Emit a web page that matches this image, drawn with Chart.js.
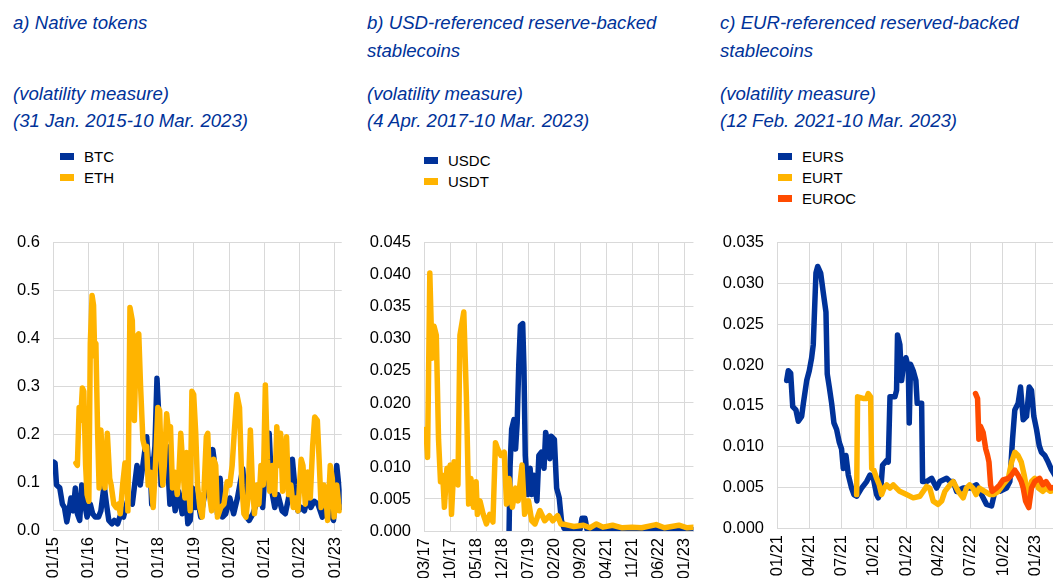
<!DOCTYPE html>
<html lang="en">
<head>
<meta charset="UTF-8">
<title>Volatility of crypto-assets</title>
<script src="https://cdn.jsdelivr.net/npm/chart.js"></script>
<style>
    body {
        margin: 0;
        width: 1053px;
        height: 578px;
        overflow: hidden;
        background: #ffffff;
        position: relative;
        font-family: 'Liberation Sans', Arial, sans-serif;
    }
    .title {
        position: absolute;
        color: #003299;
        font-style: italic;
        font-size: 18.6px;
        line-height: 20px;
        white-space: nowrap;
    }
    .legend {
        position: absolute;
        font-size: 15px;
        color: #000;
    }
    .legend div {
        position: relative;
        height: 21px;
        line-height: 21px;
        padding-left: 24px;
    }
    .legend span {
        position: absolute;
        left: 0;
        top: 7px;
        width: 14px;
        height: 7px;
    }
    canvas {
        position: absolute;
    }
</style>
</head>
<body>

<div class="title" style="left:13px;top:13px">a) Native tokens</div>
<div class="title" style="left:13px;top:84px">(volatility measure)</div>
<div class="title" style="left:13px;top:111px">(31 Jan. 2015-10 Mar. 2023)</div>

<div class="title" style="left:367px;top:13px">b) USD-referenced reserve-backed</div>
<div class="title" style="left:367px;top:41px">stablecoins</div>
<div class="title" style="left:367px;top:84px">(volatility measure)</div>
<div class="title" style="left:367px;top:111px">(4 Apr. 2017-10 Mar. 2023)</div>

<div class="title" style="left:720px;top:13px">c) EUR-referenced reserved-backed</div>
<div class="title" style="left:720px;top:41px">stablecoins</div>
<div class="title" style="left:720px;top:84px">(volatility measure)</div>
<div class="title" style="left:720px;top:111px">(12 Feb. 2021-10 Mar. 2023)</div>

<div class="legend" id="legA" style="left:60px;top:146px"></div>
<div class="legend" id="legB" style="left:424px;top:150px"></div>
<div class="legend" id="legC" style="left:778px;top:146px"></div>

<canvas id="chartA" style="left:0px;top:220px"></canvas>
<canvas id="chartB" style="left:355px;top:220px"></canvas>
<canvas id="chartC" style="left:710px;top:220px"></canvas>

<script>
    // x = months since first tick label, y = volatility measure
    const BLUE = '#003299';
    const YELLOW = '#ffb400';
    const RED = '#ff4b00';

    // a) Native tokens, x = months since Jan 2015
    const ticksA = ['01/15', '01/16', '01/17', '01/18', '01/19', '01/20', '01/21', '01/22', '01/23'];
    const btc = [
        [0.3, 0.142], [0.7, 0.14], [1.2, 0.094], [2.3, 0.088], [3.2, 0.054], [3.9, 0.047], [4.7, 0.017],
        [5.6, 0.047], [6.1, 0.067], [6.9, 0.04], [7.6, 0.088], [8.3, 0.034], [9.1, 0.02], [9.8, 0.094],
        [10.6, 0.06], [11.6, 0.027], [12.7, 0.054], [13.5, 0.034], [14.4, 0.027], [15.5, 0.027],
        [16.3, 0.04], [17.4, 0.094], [18.2, 0.054], [19.0, 0.02], [20.1, 0.013], [20.9, 0.02],
        [22.0, 0.013], [22.9, 0.03], [24.0, 0.027], [25.3, 0.06], [27.0, 0.054], [28.6, 0.135],
        [29.7, 0.094], [31.9, 0.195], [32.4, 0.148], [33.0, 0.148], [33.6, 0.054], [34.1, 0.135],
        [34.7, 0.175], [35.4, 0.317], [36.1, 0.229], [36.8, 0.094], [37.8, 0.135], [38.7, 0.175],
        [39.8, 0.054], [40.7, 0.094], [41.6, 0.04], [42.7, 0.081], [44.0, 0.034], [45.0, 0.094],
        [45.9, 0.013], [46.7, 0.02], [47.5, 0.088], [48.4, 0.047], [49.4, 0.06], [50.3, 0.027],
        [51.4, 0.067], [52.7, 0.094], [54.4, 0.168], [55.1, 0.135], [56.0, 0.034], [56.9, 0.108],
        [57.7, 0.027], [58.8, 0.034], [60.2, 0.067], [61.5, 0.034], [62.8, 0.067], [64.6, 0.128],
        [65.9, 0.027], [66.8, 0.02], [68.1, 0.034], [69.2, 0.054], [70.5, 0.067], [71.4, 0.047],
        [72.3, 0.135], [73.6, 0.202], [74.5, 0.081], [75.5, 0.047], [76.6, 0.074], [78.0, 0.04],
        [79.1, 0.034], [80.2, 0.067], [81.5, 0.148], [82.3, 0.094], [83.4, 0.04], [84.5, 0.047],
        [85.6, 0.04], [86.7, 0.067], [87.8, 0.047], [88.9, 0.06], [90.2, 0.054], [91.7, 0.027],
        [93.1, 0.067], [94.4, 0.034], [95.5, 0.02], [96.6, 0.135], [97.5, 0.081], [98.3, 0.047]
    ];
    const eth = [
        [7.8, 0.14], [8.3, 0.135], [8.9, 0.256], [9.4, 0.229], [10.0, 0.297], [10.5, 0.29], [11.1, 0.135],
        [11.6, 0.074], [12.2, 0.06], [12.7, 0.39], [13.3, 0.49], [13.8, 0.47], [14.2, 0.364], [14.6, 0.39],
        [15.2, 0.202], [15.7, 0.088], [16.3, 0.209], [17.0, 0.135], [17.7, 0.088], [18.5, 0.202],
        [19.3, 0.108], [19.8, 0.094], [20.7, 0.054], [21.5, 0.047], [22.3, 0.054], [22.9, 0.034],
        [23.7, 0.094], [24.5, 0.14], [25.1, 0.135], [25.5, 0.04], [26.2, 0.465], [27.0, 0.438],
        [27.7, 0.229], [28.4, 0.404], [29.2, 0.41], [29.8, 0.303], [30.6, 0.189], [31.4, 0.168],
        [31.9, 0.175], [32.4, 0.094], [33.2, 0.121], [34.1, 0.047], [34.9, 0.135], [35.7, 0.256],
        [36.3, 0.25], [36.8, 0.148], [37.4, 0.094], [37.9, 0.135], [38.7, 0.243], [39.4, 0.202],
        [40.0, 0.216], [40.7, 0.088], [41.5, 0.121], [42.3, 0.074], [42.9, 0.121], [43.5, 0.202],
        [44.2, 0.135], [44.9, 0.067], [45.5, 0.162], [46.2, 0.088], [46.7, 0.04], [47.3, 0.29],
        [47.9, 0.283], [48.6, 0.202], [49.2, 0.094], [50.0, 0.047], [50.8, 0.027], [51.4, 0.081],
        [52.2, 0.195], [52.7, 0.202], [53.4, 0.067], [54.0, 0.04], [54.7, 0.148], [55.4, 0.135],
        [56.0, 0.027], [57.1, 0.047], [58.2, 0.054], [59.3, 0.101], [60.2, 0.094], [61.0, 0.135],
        [61.7, 0.202], [62.6, 0.283], [63.5, 0.256], [64.3, 0.094], [65.0, 0.034], [65.7, 0.027],
        [66.4, 0.067], [67.2, 0.209], [67.9, 0.094], [68.6, 0.034], [69.4, 0.094], [70.1, 0.054],
        [70.8, 0.135], [71.6, 0.094], [72.3, 0.303], [73.0, 0.148], [73.8, 0.081], [74.7, 0.135],
        [75.5, 0.074], [76.2, 0.216], [76.9, 0.135], [77.5, 0.202], [78.2, 0.081], [78.9, 0.135],
        [79.5, 0.195], [80.2, 0.074], [81.0, 0.094], [81.8, 0.047], [82.6, 0.067], [83.4, 0.04],
        [84.5, 0.148], [85.1, 0.135], [85.9, 0.054], [86.7, 0.121], [87.6, 0.067], [88.4, 0.175],
        [89.1, 0.236], [90.0, 0.229], [90.6, 0.148], [91.3, 0.047], [92.2, 0.094], [93.1, 0.054],
        [93.5, 0.02], [94.4, 0.135], [95.1, 0.108], [95.7, 0.027], [96.6, 0.094], [97.5, 0.04], [98.3, 0.047]
    ];

    // b) USD-referenced stablecoins, x = months since Mar 2017
    const ticksB = ['03/17', '10/17', '05/18', '12/18', '07/19', '02/20', '09/20', '04/21', '11/21', '06/22', '01/23'];
    const usdc = [
        [22.83, 0.0001], [23.09, 0.01], [23.52, 0.0159], [24.13, 0.0174], [24.57, 0.0128], [25.0, 0.0169],
        [25.43, 0.026], [25.87, 0.0321], [26.48, 0.0324], [26.82, 0.0255], [27.17, 0.0118], [27.86, 0.0057],
        [28.47, 0.0098], [28.9, 0.0057], [29.51, 0.0087], [30.3, 0.0047], [30.82, 0.0118], [31.5, 0.0123],
        [32.2, 0.0098], [32.64, 0.0154], [33.25, 0.0138], [33.77, 0.0113], [34.11, 0.0148], [34.98, 0.0143],
        [35.59, 0.0067], [36.28, 0.0052], [36.89, 0.0016], [37.59, 0.0004], [40.2, 0.0002], [41.9, 0.0003],
        [42.4, 0.002], [43.2, 0.002], [43.7, 0.0003], [48.0, 0.0002], [55.8, 0.0001], [64.5, 0.0002], [72.3, 0.0002]
    ];
    const usdt = [
        [0.52, 0.0159], [0.95, 0.0115], [1.56, 0.0403], [2.17, 0.027], [2.69, 0.032], [3.3, 0.0306],
        [3.9, 0.0143], [4.43, 0.0077], [5.03, 0.0087], [5.47, 0.0037], [6.16, 0.0098], [6.6, 0.0067],
        [7.03, 0.0103], [7.38, 0.0026], [8.07, 0.0108], [8.6, 0.0098], [9.11, 0.0072], [9.64, 0.0306],
        [10.68, 0.0342], [11.37, 0.021], [11.98, 0.0042], [12.59, 0.0082], [13.28, 0.0037], [13.98, 0.0077],
        [14.32, 0.0026], [15.02, 0.0047], [15.89, 0.0026], [16.75, 0.0011], [17.62, 0.0026], [18.49, 0.0014],
        [19.18, 0.0138], [19.79, 0.0128], [20.66, 0.0118], [21.53, 0.0123], [22.14, 0.0042], [22.83, 0.0082],
        [23.7, 0.0037], [24.57, 0.0067], [25.26, 0.0047], [26.3, 0.0103], [27.0, 0.0026], [28.04, 0.0047],
        [28.9, 0.0016], [29.77, 0.0011], [31.08, 0.0032], [32.38, 0.0016], [33.68, 0.0024], [34.55, 0.0016],
        [35.85, 0.0024], [36.72, 0.0011], [38.02, 0.001], [40.2, 0.0007], [42.8, 0.0009], [44.5, 0.0005],
        [46.27, 0.0011], [48.0, 0.0006], [50.6, 0.0009], [53.2, 0.0005], [55.8, 0.0006], [58.4, 0.0005],
        [62.3, 0.001], [64.5, 0.0005], [68.4, 0.0009], [70.6, 0.0005], [72.3, 0.0006]
    ];

    // c) EUR-referenced stablecoins, x = months since Jan 2021
    const ticksC = ['01/21', '04/21', '07/21', '10/21', '01/22', '04/22', '07/22', '10/22', '01/23'];
    const eurs = [
        [0.9, 0.0181], [1.05, 0.0193], [1.27, 0.019], [1.46, 0.0149], [1.76, 0.0145], [1.98, 0.0131],
        [2.29, 0.0137], [2.45, 0.0153], [2.76, 0.0181], [3.0, 0.0193], [3.22, 0.0209], [3.37, 0.0225],
        [3.62, 0.0313], [3.78, 0.0321], [4.06, 0.0313], [4.3, 0.0289], [4.55, 0.0265], [4.67, 0.0189],
        [4.86, 0.0173], [5.08, 0.0153], [5.29, 0.0129], [5.54, 0.0121], [5.79, 0.0105], [6.0, 0.0097],
        [6.16, 0.0073], [6.41, 0.0089], [6.63, 0.0065], [6.93, 0.0049], [7.15, 0.0041], [7.4, 0.0039],
        [7.86, 0.0049], [8.33, 0.0057], [8.64, 0.0065], [8.95, 0.0061], [9.26, 0.0041], [9.41, 0.0037],
        [9.63, 0.0045], [9.81, 0.0077], [10.19, 0.0083], [10.34, 0.0081], [10.5, 0.0161], [10.96, 0.0161],
        [11.11, 0.0169], [11.2, 0.0237], [11.42, 0.0225], [11.58, 0.0181], [11.73, 0.0197], [11.98, 0.0209],
        [12.2, 0.0197], [12.29, 0.0129], [12.41, 0.0201], [12.66, 0.0193], [12.91, 0.0181], [13.03, 0.0153],
        [13.44, 0.0153], [13.53, 0.0057], [13.9, 0.0057], [14.37, 0.0061], [14.83, 0.0049], [15.14, 0.0057],
        [15.76, 0.0061], [16.07, 0.0057], [16.38, 0.0057], [16.69, 0.0045], [17.31, 0.0049], [17.93, 0.0049],
        [18.54, 0.0053], [19.0, 0.0041], [19.47, 0.0029], [19.94, 0.0027], [20.25, 0.0045], [20.71, 0.0045],
        [21.33, 0.0049], [21.64, 0.0057], [21.89, 0.0109], [22.1, 0.0145], [22.41, 0.0153], [22.63, 0.0173],
        [22.88, 0.0133], [23.19, 0.0137], [23.44, 0.0173], [23.65, 0.0169], [23.87, 0.0137], [24.12, 0.0121],
        [24.37, 0.0101], [24.58, 0.0093], [24.89, 0.0089], [25.2, 0.0081], [25.5, 0.0072], [25.9, 0.0063], [26.3, 0.006]
    ];
    const eurt = [
        [7.4, 0.0041], [7.49, 0.0161], [8.0, 0.0159], [8.33, 0.0159], [8.48, 0.0165], [8.7, 0.0161],
        [8.8, 0.0073], [9.0, 0.0071], [9.26, 0.0061], [9.5, 0.0053], [9.72, 0.0041], [9.95, 0.0049],
        [10.2, 0.0053], [10.5, 0.0049], [10.8, 0.0053], [11.1, 0.0049], [11.4, 0.0045], [12.04, 0.0041],
        [12.66, 0.0037], [13.28, 0.0039], [13.9, 0.0051], [14.2, 0.0049], [14.52, 0.0033], [14.98, 0.0029],
        [15.3, 0.0033], [15.6, 0.0045], [16.07, 0.0053], [16.38, 0.0057], [16.84, 0.0045], [17.3, 0.0037],
        [17.6, 0.0049], [17.9, 0.0053], [18.2, 0.0049], [18.5, 0.0041], [18.8, 0.0049], [19.3, 0.0045],
        [19.8, 0.0041], [20.1, 0.0041], [20.56, 0.0045], [21.0, 0.0053], [21.5, 0.0061], [21.8, 0.0081],
        [22.1, 0.0093], [22.4, 0.0089], [22.7, 0.0081], [22.97, 0.0065], [23.19, 0.0049], [23.4, 0.0037],
        [23.65, 0.0057], [23.96, 0.0061], [24.3, 0.0049], [24.7, 0.0045], [25.0, 0.0049], [25.4, 0.0045],
        [25.9, 0.0047], [26.3, 0.0045]
    ];
    const euroc = [
        [18.45, 0.0165], [18.64, 0.0159], [18.76, 0.0109], [18.9, 0.0125], [19.16, 0.0117], [19.4, 0.0097],
        [19.57, 0.0089], [19.7, 0.0081], [19.85, 0.0053], [20.0, 0.0045], [20.4, 0.0049], [20.7, 0.0053],
        [21.0, 0.0059], [21.5, 0.0061], [21.8, 0.0065], [22.1, 0.0071], [22.4, 0.0065], [22.7, 0.0057],
        [22.88, 0.0049], [23.1, 0.0033], [23.4, 0.0025], [23.65, 0.0049], [23.96, 0.0057], [24.4, 0.0061],
        [24.7, 0.0053], [25.0, 0.0057], [25.4, 0.0049], [25.9, 0.005], [26.3, 0.0048]
    ];

    function legend(id, series) {
        const box = document.getElementById(id);
        series.forEach(s => {
            const row = document.createElement('div');
            row.innerHTML = '<span style="background:' + s.color + '"></span>' + s.label;
            box.appendChild(row);
        });
    }

    function makeChart(id, o) {
        const cv = document.getElementById(id);
        cv.style.width = o.w + 'px';
        cv.style.height = o.h + 'px';
        cv.width = o.w;
        cv.height = o.h;
        const font = { family: "'Liberation Sans', Arial, sans-serif", size: 16.5 };
        return new Chart(cv, {
            type: 'line',
            data: {
                datasets: o.series.map(s => ({
                    label: s.label,
                    data: s.data.map(p => ({ x: p[0], y: p[1] })),
                    borderColor: s.color,
                    backgroundColor: s.color,
                    borderWidth: 5.5,
                    borderJoinStyle: 'round',
                    borderCapStyle: 'round',
                    pointRadius: 0,
                    tension: 0,
                    order: s.order,
                })),
            },
            options: {
                responsive: false,
                animation: false,
                events: [],
                layout: { padding: { top: o.top, right: 10, left: 0, bottom: 0 } },
                plugins: { legend: { display: false }, tooltip: { enabled: false } },
                scales: {
                    x: {
                        type: 'linear',
                        min: 0,
                        max: o.xMax,
                        afterFit: s => { s.height = 60; },
                        grid: { color: '#d9d9d9', drawTicks: false },
                        border: { color: '#d9d9d9' },
                        ticks: {
                            stepSize: o.xStep,
                            includeBounds: false,
                            autoSkip: false,
                            minRotation: 90,
                            maxRotation: 90,
                            padding: 7,
                            color: '#000',
                            font: font,
                            callback: v => o.ticks[Math.round(v / o.xStep)],
                        },
                    },
                    y: {
                        min: 0,
                        max: o.yMax,
                        afterFit: s => { s.width = o.yw; },
                        grid: { color: '#d9d9d9', drawTicks: false },
                        border: { color: '#d9d9d9' },
                        ticks: {
                            stepSize: o.yStep,
                            padding: 13,
                            color: '#000',
                            font: font,
                            callback: v => v.toFixed(o.dec),
                        },
                    },
                },
            },
        });
    }

    const seriesA = [
        { label: 'BTC', data: btc, color: BLUE, order: 1 },
        { label: 'ETH', data: eth, color: YELLOW, order: 0 },
    ];
    const seriesB = [
        { label: 'USDC', data: usdc, color: BLUE, order: 1 },
        { label: 'USDT', data: usdt, color: YELLOW, order: 0 },
    ];
    const seriesC = [
        { label: 'EURS', data: eurs, color: BLUE, order: 2 },
        { label: 'EURT', data: eurt, color: YELLOW, order: 1 },
        { label: 'EUROC', data: euroc, color: RED, order: 0 },
    ];

    legend('legA', seriesA);
    legend('legB', seriesB);
    legend('legC', seriesC);

    makeChart('chartA', { w: 362, h: 370, top: 13, yw: 53, xMax: 98.3, xStep: 12, ticks: ticksA, yMax: 0.6, yStep: 0.1, dec: 1, series: seriesA });
    makeChart('chartB', { w: 357, h: 371, top: 16, yw: 69, xMax: 72.3, xStep: 7, ticks: ticksB, yMax: 0.045, yStep: 0.005, dec: 3, series: seriesB });
    makeChart('chartC', { w: 360, h: 368, top: 16, yw: 67, xMax: 26.3, xStep: 3, ticks: ticksC, yMax: 0.035, yStep: 0.005, dec: 3, series: seriesC });
</script>
</body>
</html>
